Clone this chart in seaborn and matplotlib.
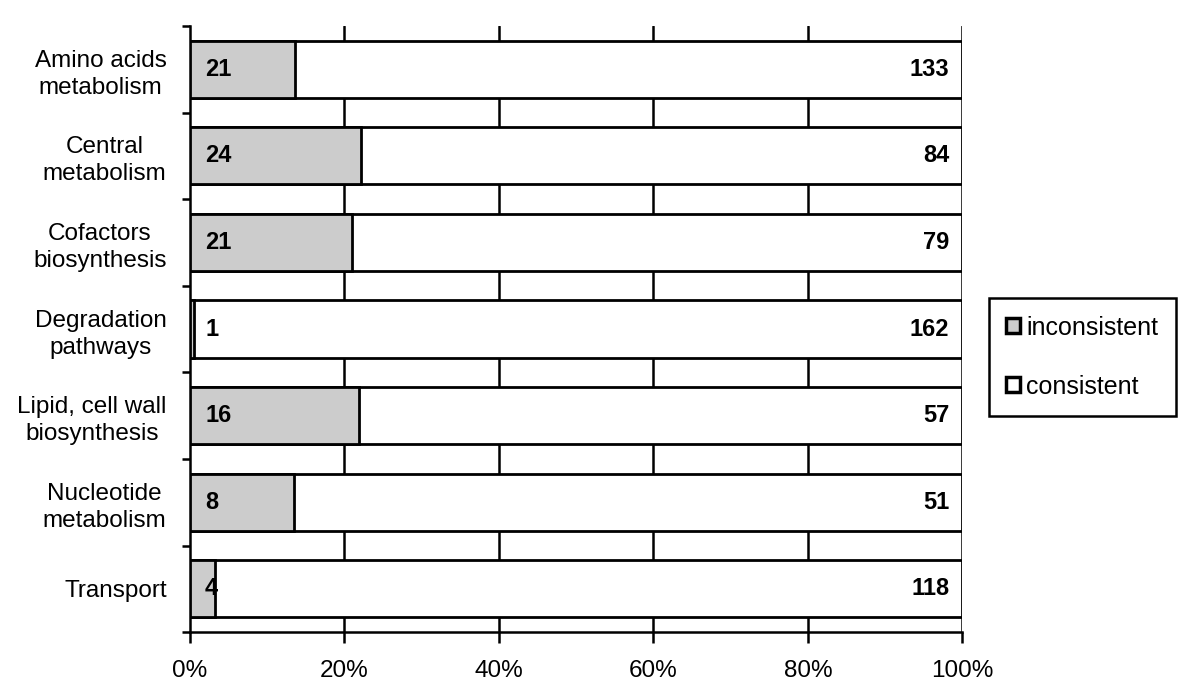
import seaborn as sns
import matplotlib.pyplot as plt
import pandas as pd
import numpy as np
from matplotlib.patches import Patch

sns.set_style("white")
plt.rcParams['font.family'] = ['Liberation Sans', 'DejaVu Sans']
plt.rcParams['text.color'] = 'black'
plt.rcParams['xtick.color'] = 'black'
plt.rcParams['ytick.color'] = 'black'

categories = ["Amino acids\nmetabolism", "Central\nmetabolism", "Cofactors\nbiosynthesis",
              "Degradation\npathways", "Lipid, cell wall\nbiosynthesis", "Nucleotide\nmetabolism",
              "Transport"]
inconsistent = [21, 24, 21, 1, 16, 8, 4]
consistent = [133, 84, 79, 162, 57, 51, 118]

df = pd.DataFrame({"category": categories, "inconsistent": inconsistent, "consistent": consistent})
df["total"] = df["inconsistent"] + df["consistent"]
df["full"] = 100.0
df["inc_pct"] = df["inconsistent"] / df["total"] * 100

fig = plt.figure(figsize=(12, 7), dpi=100)
ax = fig.add_axes([0.158, 0.097, 0.644, 0.866])

# grid first, then bars on top
for g in [20, 40, 60, 80, 100]:
    ax.axvline(g, color="black", lw=1.8, zorder=0)

sns.barplot(data=df, x="full", y="category", color="white", edgecolor="black",
            linewidth=2, width=0.66, ax=ax, zorder=2, orient="h")
sns.barplot(data=df, x="inc_pct", y="category", color="#cccccc", edgecolor="black",
            linewidth=2, width=0.66, ax=ax, zorder=3, orient="h")

for i, (a, b) in enumerate(zip(inconsistent, consistent)):
    ax.text(2.0, i, str(a), ha="left", va="center", fontsize=17, fontweight="bold",
            color="black", zorder=4)
    ax.text(98.3, i, str(b), ha="right", va="center", fontsize=17, fontweight="bold",
            color="black", zorder=4)

ax.set_xlim(0, 100)
ax.set_ylim(6.5, -0.5)
ax.set_xticks([0, 20, 40, 60, 80, 100])
ax.set_xticklabels(["0%", "20%", "40%", "60%", "80%", "100%"], fontsize=17.5)
ax.set_yticks(range(7))
ax.set_yticklabels(categories, fontsize=17.5, linespacing=1.3, multialignment="center")
ax.tick_params(axis="y", which="major", left=False, length=0, pad=16.5)
# ticks at band boundaries
ax.set_yticks(np.arange(-0.5, 7, 1), minor=True)
ax.tick_params(axis="y", which="minor", left=True, length=6, width=1.8, direction="out")
ax.tick_params(axis="x", bottom=True, length=8, width=1.8, direction="out", pad=12)
ax.set_xlabel("")
ax.set_ylabel("")

for s in ["top", "right"]:
    ax.spines[s].set_visible(False)
for s in ["left", "bottom"]:
    ax.spines[s].set_linewidth(1.8)
    ax.spines[s].set_color("black")

handles = [Patch(facecolor="#cccccc", edgecolor="black", lw=2.5, label="inconsistent"),
           Patch(facecolor="white", edgecolor="black", lw=2.5, label="consistent")]
leg = fig.legend(handles=handles, loc="upper left", bbox_to_anchor=(0.824, 0.574),
                 fontsize=18, frameon=True, fancybox=False, edgecolor="black",
                 handlelength=0.55, handleheight=0.55, handletextpad=0.25,
                 labelspacing=1.4, borderpad=0.7, borderaxespad=0)
leg.get_frame().set_linewidth(1.8)
leg.get_frame().set_edgecolor("black")
leg.get_frame().set_alpha(1)
for t in leg.get_texts():
    t.set_color("black")

fig.savefig("out.png", dpi=100)
